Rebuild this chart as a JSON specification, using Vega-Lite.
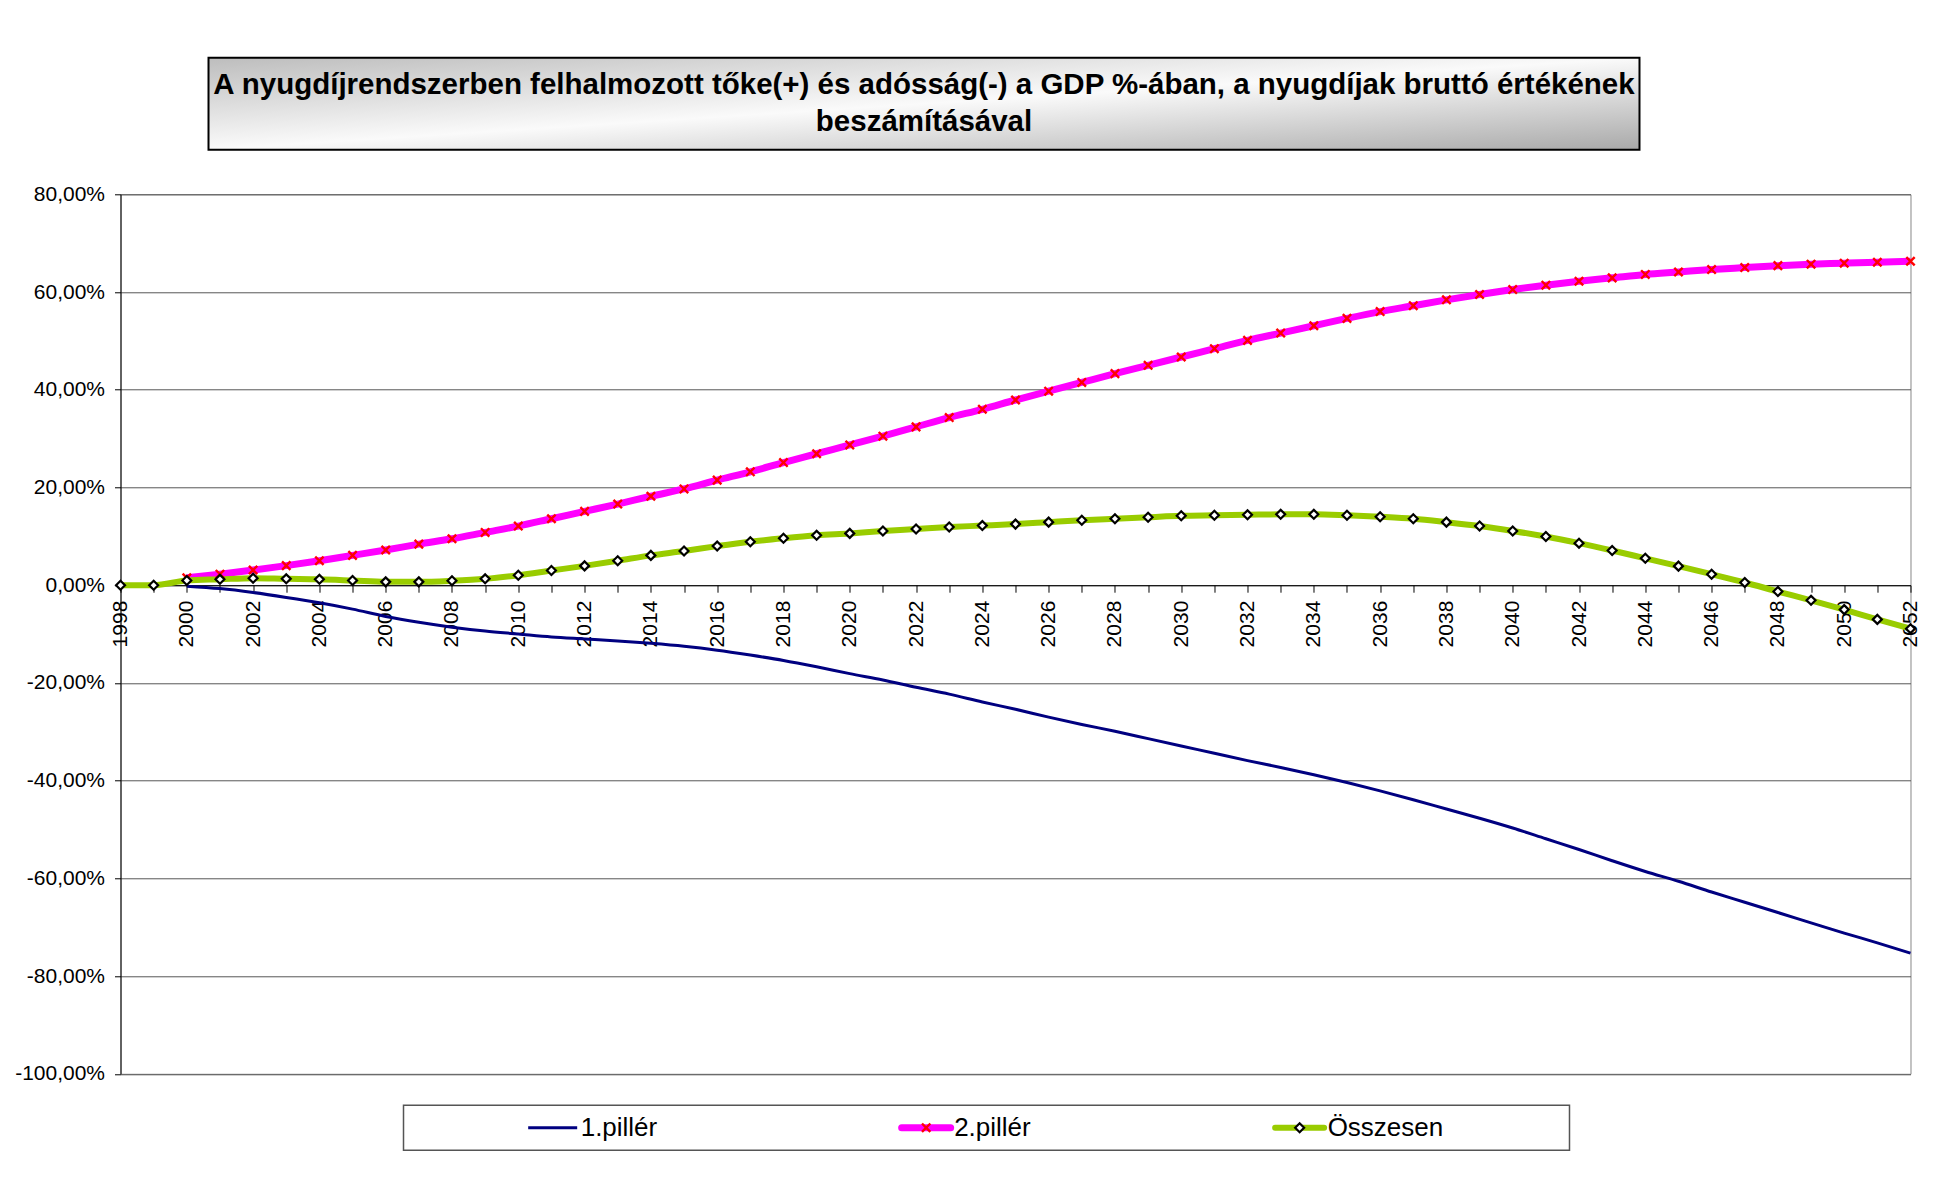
{
  "$schema": "https://vega.github.io/schema/vega-lite/v6.json",
  "padding": {"left": 13.5, "top": 56.7, "right": 5, "bottom": 5},
  "background": "white",
  "config": {
    "locale": {"number": {"decimal": ",", "thousands": " ", "grouping": [3], "currency": ["", " Ft"], "minus": "-"}},
    "view": {"stroke": null},
    "font": "Liberation Sans",
    "text": {"font": "Liberation Sans"},
    "axis": {"labelFont": "Liberation Sans", "labelColor": "#000000"}
  },
  "datasets": {
    "series": [
      {"year": 2000, "series": "1.pillér", "value": -0.002},
      {"year": 2001, "series": "1.pillér", "value": -0.007},
      {"year": 2002, "series": "1.pillér", "value": -0.015},
      {"year": 2003, "series": "1.pillér", "value": -0.025},
      {"year": 2004, "series": "1.pillér", "value": -0.036},
      {"year": 2005, "series": "1.pillér", "value": -0.049},
      {"year": 2006, "series": "1.pillér", "value": -0.064},
      {"year": 2007, "series": "1.pillér", "value": -0.076},
      {"year": 2008, "series": "1.pillér", "value": -0.086},
      {"year": 2009, "series": "1.pillér", "value": -0.094},
      {"year": 2010, "series": "1.pillér", "value": -0.100},
      {"year": 2011, "series": "1.pillér", "value": -0.106},
      {"year": 2012, "series": "1.pillér", "value": -0.110},
      {"year": 2013, "series": "1.pillér", "value": -0.114},
      {"year": 2014, "series": "1.pillér", "value": -0.119},
      {"year": 2015, "series": "1.pillér", "value": -0.125},
      {"year": 2016, "series": "1.pillér", "value": -0.133},
      {"year": 2017, "series": "1.pillér", "value": -0.143},
      {"year": 2018, "series": "1.pillér", "value": -0.154},
      {"year": 2019, "series": "1.pillér", "value": -0.167},
      {"year": 2020, "series": "1.pillér", "value": -0.181},
      {"year": 2021, "series": "1.pillér", "value": -0.194},
      {"year": 2022, "series": "1.pillér", "value": -0.209},
      {"year": 2023, "series": "1.pillér", "value": -0.223},
      {"year": 2024, "series": "1.pillér", "value": -0.239},
      {"year": 2025, "series": "1.pillér", "value": -0.254},
      {"year": 2026, "series": "1.pillér", "value": -0.270},
      {"year": 2027, "series": "1.pillér", "value": -0.285},
      {"year": 2028, "series": "1.pillér", "value": -0.299},
      {"year": 2029, "series": "1.pillér", "value": -0.314},
      {"year": 2030, "series": "1.pillér", "value": -0.329},
      {"year": 2031, "series": "1.pillér", "value": -0.344},
      {"year": 2032, "series": "1.pillér", "value": -0.359},
      {"year": 2033, "series": "1.pillér", "value": -0.373},
      {"year": 2034, "series": "1.pillér", "value": -0.388},
      {"year": 2035, "series": "1.pillér", "value": -0.404},
      {"year": 2036, "series": "1.pillér", "value": -0.421},
      {"year": 2037, "series": "1.pillér", "value": -0.439},
      {"year": 2038, "series": "1.pillér", "value": -0.458},
      {"year": 2039, "series": "1.pillér", "value": -0.477},
      {"year": 2040, "series": "1.pillér", "value": -0.497},
      {"year": 2041, "series": "1.pillér", "value": -0.519},
      {"year": 2042, "series": "1.pillér", "value": -0.541},
      {"year": 2043, "series": "1.pillér", "value": -0.564},
      {"year": 2044, "series": "1.pillér", "value": -0.586},
      {"year": 2045, "series": "1.pillér", "value": -0.606},
      {"year": 2046, "series": "1.pillér", "value": -0.628},
      {"year": 2047, "series": "1.pillér", "value": -0.649},
      {"year": 2048, "series": "1.pillér", "value": -0.670},
      {"year": 2049, "series": "1.pillér", "value": -0.691},
      {"year": 2050, "series": "1.pillér", "value": -0.712},
      {"year": 2051, "series": "1.pillér", "value": -0.732},
      {"year": 2052, "series": "1.pillér", "value": -0.753},
      {"year": 2000, "series": "2.pillér", "value": 0.015},
      {"year": 2001, "series": "2.pillér", "value": 0.0225},
      {"year": 2002, "series": "2.pillér", "value": 0.031},
      {"year": 2003, "series": "2.pillér", "value": 0.040},
      {"year": 2004, "series": "2.pillér", "value": 0.050},
      {"year": 2005, "series": "2.pillér", "value": 0.061},
      {"year": 2006, "series": "2.pillér", "value": 0.072},
      {"year": 2007, "series": "2.pillér", "value": 0.084},
      {"year": 2008, "series": "2.pillér", "value": 0.095},
      {"year": 2009, "series": "2.pillér", "value": 0.108},
      {"year": 2010, "series": "2.pillér", "value": 0.121},
      {"year": 2011, "series": "2.pillér", "value": 0.136},
      {"year": 2012, "series": "2.pillér", "value": 0.151},
      {"year": 2013, "series": "2.pillér", "value": 0.166},
      {"year": 2014, "series": "2.pillér", "value": 0.182},
      {"year": 2015, "series": "2.pillér", "value": 0.197},
      {"year": 2016, "series": "2.pillér", "value": 0.215},
      {"year": 2017, "series": "2.pillér", "value": 0.232},
      {"year": 2018, "series": "2.pillér", "value": 0.251},
      {"year": 2019, "series": "2.pillér", "value": 0.269},
      {"year": 2020, "series": "2.pillér", "value": 0.287},
      {"year": 2021, "series": "2.pillér", "value": 0.305},
      {"year": 2022, "series": "2.pillér", "value": 0.324},
      {"year": 2023, "series": "2.pillér", "value": 0.343},
      {"year": 2024, "series": "2.pillér", "value": 0.360},
      {"year": 2025, "series": "2.pillér", "value": 0.379},
      {"year": 2026, "series": "2.pillér", "value": 0.397},
      {"year": 2027, "series": "2.pillér", "value": 0.415},
      {"year": 2028, "series": "2.pillér", "value": 0.433},
      {"year": 2029, "series": "2.pillér", "value": 0.450},
      {"year": 2030, "series": "2.pillér", "value": 0.467},
      {"year": 2031, "series": "2.pillér", "value": 0.484},
      {"year": 2032, "series": "2.pillér", "value": 0.501},
      {"year": 2033, "series": "2.pillér", "value": 0.516},
      {"year": 2034, "series": "2.pillér", "value": 0.531},
      {"year": 2035, "series": "2.pillér", "value": 0.546},
      {"year": 2036, "series": "2.pillér", "value": 0.560},
      {"year": 2037, "series": "2.pillér", "value": 0.572},
      {"year": 2038, "series": "2.pillér", "value": 0.584},
      {"year": 2039, "series": "2.pillér", "value": 0.595},
      {"year": 2040, "series": "2.pillér", "value": 0.605},
      {"year": 2041, "series": "2.pillér", "value": 0.614},
      {"year": 2042, "series": "2.pillér", "value": 0.622},
      {"year": 2043, "series": "2.pillér", "value": 0.629},
      {"year": 2044, "series": "2.pillér", "value": 0.636},
      {"year": 2045, "series": "2.pillér", "value": 0.641},
      {"year": 2046, "series": "2.pillér", "value": 0.646},
      {"year": 2047, "series": "2.pillér", "value": 0.650},
      {"year": 2048, "series": "2.pillér", "value": 0.654},
      {"year": 2049, "series": "2.pillér", "value": 0.657},
      {"year": 2050, "series": "2.pillér", "value": 0.659},
      {"year": 2051, "series": "2.pillér", "value": 0.661},
      {"year": 2052, "series": "2.pillér", "value": 0.663},
      {"year": 1998, "series": "Összesen", "value": 0.0},
      {"year": 1999, "series": "Összesen", "value": 0.0},
      {"year": 2000, "series": "Összesen", "value": 0.0095},
      {"year": 2001, "series": "Összesen", "value": 0.012},
      {"year": 2002, "series": "Összesen", "value": 0.0143},
      {"year": 2003, "series": "Összesen", "value": 0.013},
      {"year": 2004, "series": "Összesen", "value": 0.012},
      {"year": 2005, "series": "Összesen", "value": 0.0095},
      {"year": 2006, "series": "Összesen", "value": 0.0068},
      {"year": 2007, "series": "Összesen", "value": 0.0068},
      {"year": 2008, "series": "Összesen", "value": 0.009},
      {"year": 2009, "series": "Összesen", "value": 0.013},
      {"year": 2010, "series": "Összesen", "value": 0.0204},
      {"year": 2011, "series": "Összesen", "value": 0.030},
      {"year": 2012, "series": "Összesen", "value": 0.0395},
      {"year": 2013, "series": "Összesen", "value": 0.050},
      {"year": 2014, "series": "Összesen", "value": 0.061},
      {"year": 2015, "series": "Összesen", "value": 0.070},
      {"year": 2016, "series": "Összesen", "value": 0.080},
      {"year": 2017, "series": "Összesen", "value": 0.089},
      {"year": 2018, "series": "Összesen", "value": 0.096},
      {"year": 2019, "series": "Összesen", "value": 0.102},
      {"year": 2020, "series": "Összesen", "value": 0.106},
      {"year": 2021, "series": "Összesen", "value": 0.111},
      {"year": 2022, "series": "Összesen", "value": 0.115},
      {"year": 2023, "series": "Összesen", "value": 0.119},
      {"year": 2024, "series": "Összesen", "value": 0.122},
      {"year": 2025, "series": "Összesen", "value": 0.125},
      {"year": 2026, "series": "Összesen", "value": 0.129},
      {"year": 2027, "series": "Összesen", "value": 0.133},
      {"year": 2028, "series": "Összesen", "value": 0.136},
      {"year": 2029, "series": "Összesen", "value": 0.139},
      {"year": 2030, "series": "Összesen", "value": 0.142},
      {"year": 2031, "series": "Összesen", "value": 0.143},
      {"year": 2032, "series": "Összesen", "value": 0.144},
      {"year": 2033, "series": "Összesen", "value": 0.145},
      {"year": 2034, "series": "Összesen", "value": 0.145},
      {"year": 2035, "series": "Összesen", "value": 0.143},
      {"year": 2036, "series": "Összesen", "value": 0.140},
      {"year": 2037, "series": "Összesen", "value": 0.136},
      {"year": 2038, "series": "Összesen", "value": 0.129},
      {"year": 2039, "series": "Összesen", "value": 0.121},
      {"year": 2040, "series": "Összesen", "value": 0.111},
      {"year": 2041, "series": "Összesen", "value": 0.0995},
      {"year": 2042, "series": "Összesen", "value": 0.086},
      {"year": 2043, "series": "Összesen", "value": 0.071},
      {"year": 2044, "series": "Összesen", "value": 0.055},
      {"year": 2045, "series": "Összesen", "value": 0.039},
      {"year": 2046, "series": "Összesen", "value": 0.0225},
      {"year": 2047, "series": "Összesen", "value": 0.0055},
      {"year": 2048, "series": "Összesen", "value": -0.013},
      {"year": 2049, "series": "Összesen", "value": -0.031},
      {"year": 2050, "series": "Összesen", "value": -0.050},
      {"year": 2051, "series": "Összesen", "value": -0.070},
      {"year": 2052, "series": "Összesen", "value": -0.089}
    ],
    "legend": [
      {"series": "1.pillér"},
      {"series": "2.pillér"},
      {"series": "Összesen"}
    ]
  },
  "spacing": 19.5,
  "vconcat": [
    {
      "spacing": 31.6,
      "vconcat": [
        {
          "spacing": 0,
          "hconcat": [
            {"width": 87, "height": 92, "data": {"values": []}, "mark": "point"},
            {
              "width": 1431,
              "height": 92,
              "view": {
                "fill": {"gradient": "linear", "x1": 0, "y1": 0, "x2": 1, "y2": 1,
                  "stops": [{"offset": 0, "color": "#bdbdbd"}, {"offset": 0.5, "color": "#fafafa"}, {"offset": 1, "color": "#a9a9a9"}]},
                "stroke": "#000000",
                "strokeWidth": 2
              },
              "data": {"values": [{}]},
              "mark": {
                "type": "text",
                "text": ["A nyugdíjrendszerben felhalmozott tőke(+) és adósság(-) a GDP %-ában, a nyugdíjak bruttó értékének", "beszámításával"],
                "fontSize": 29.5,
                "fontWeight": "bold",
                "lineHeight": 37,
                "align": "center",
                "baseline": "middle",
                "dy": -18.5,
                "color": "#000000"
              }
            }
          ]
        },
        {
          "width": 1790,
          "height": 879.5,
          "view": {"stroke": "#888888"},
          "data": {"name": "series"},
          "encoding": {
            "x": {
              "field": "year",
              "type": "quantitative",
              "scale": {"domain": [1998, 2052], "nice": false, "zero": false},
              "axis": {
                "values": [1998,1999,2000,2001,2002,2003,2004,2005,2006,2007,2008,2009,2010,2011,2012,2013,2014,2015,2016,2017,2018,2019,2020,2021,2022,2023,2024,2025,2026,2027,2028,2029,2030,2031,2032,2033,2034,2035,2036,2037,2038,2039,2040,2041,2042,2043,2044,2045,2046,2047,2048,2049,2050,2051,2052],
                "format": "d",
                "labelExpr": "datum.value % 2 === 0 ? datum.label : ''",
                "labelAngle": 270,
                "labelAlign": "right",
                "labelBaseline": "middle",
                "labelOverlap": false,
                "labelFlush": false,
                "labelBound": false,
                "offset": -488.6,
                "tickSize": 7,
                "labelPadding": 8,
                "grid": false,
                "title": null,
                "domainColor": "#000000",
                "tickColor": "#000000",
                "labelFontSize": 21,
                "labelColor": "#000000"
              }
            },
            "y": {
              "field": "value",
              "type": "quantitative",
              "scale": {"domain": [-1, 0.8], "nice": false, "zero": false},
              "axis": {
                "values": [-1, -0.8, -0.6, -0.4, -0.2, 0, 0.2, 0.4, 0.6, 0.8],
                "format": ".2%",
                "title": null,
                "grid": true,
                "gridColor": "#555555",
                "gridOpacity": 1,
                "domainColor": "#000000",
                "tickColor": "#000000",
                "tickSize": 6,
                "labelPadding": 10,
                "labelFontSize": 21,
                "labelColor": "#000000"
              }
            }
          },
          "layer": [
            {
              "transform": [{"filter": "datum.series === '1.pillér'"}],
              "mark": {"type": "line", "interpolate": "monotone", "color": "#000080", "strokeWidth": 3}
            },
            {
              "transform": [{"filter": "datum.series === '2.pillér'"}],
              "mark": {"type": "line", "interpolate": "monotone", "color": "#ff00ff", "strokeWidth": 7}
            },
            {
              "transform": [{"filter": "datum.series === 'Összesen'"}],
              "mark": {"type": "line", "interpolate": "monotone", "color": "#99cc00", "strokeWidth": 6}
            },
            {
              "transform": [{"filter": "datum.series === '2.pillér'"}],
              "mark": {"type": "point", "shape": "M-1,-1L1,1M-1,1L1,-1", "size": 70, "filled": false, "stroke": "#ff0000", "strokeWidth": 2.4, "opacity": 1}
            },
            {
              "transform": [{"filter": "datum.series === 'Összesen'"}],
              "mark": {"type": "point", "shape": "diamond", "size": 80, "filled": true, "fill": "#ffffff", "stroke": "#000000", "strokeWidth": 2.2, "opacity": 1}
            }
          ]
        }
      ]
    },
    {
      "spacing": 0,
      "hconcat": [
        {"width": 281.7, "height": 45, "data": {"values": []}, "mark": "point"},
        {
          "width": 1166,
          "height": 45,
          "view": {"stroke": "#555555", "strokeWidth": 1.5, "fill": "#ffffff"},
          "data": {"name": "legend"},
          "encoding": {
            "x": {
              "field": "series",
              "type": "nominal",
              "scale": {"type": "point", "domain": ["1.pillér", "2.pillér", "Összesen"], "padding": 0.561, "align": 0.356},
              "axis": null
            }
          },
          "layer": [
            {
              "transform": [{"filter": "datum.series === '1.pillér'"}],
              "mark": {"type": "point", "shape": "M-1,0L1,0", "size": 2401, "filled": false, "stroke": "#000080", "strokeWidth": 3, "opacity": 1}
            },
            {
              "transform": [{"filter": "datum.series === '2.pillér'"}],
              "mark": {"type": "point", "shape": "M-1,0L1,0", "size": 2401, "filled": false, "stroke": "#ff00ff", "strokeWidth": 7, "strokeCap": "round", "opacity": 1}
            },
            {
              "transform": [{"filter": "datum.series === 'Összesen'"}],
              "mark": {"type": "point", "shape": "M-1,0L1,0", "size": 2401, "filled": false, "stroke": "#99cc00", "strokeWidth": 6, "strokeCap": "round", "opacity": 1}
            },
            {
              "transform": [{"filter": "datum.series === '2.pillér'"}],
              "mark": {"type": "point", "shape": "M-1,-1L1,1M-1,1L1,-1", "size": 70, "filled": false, "stroke": "#ff0000", "strokeWidth": 2.4, "opacity": 1}
            },
            {
              "transform": [{"filter": "datum.series === 'Összesen'"}],
              "mark": {"type": "point", "shape": "diamond", "size": 80, "filled": true, "fill": "#ffffff", "stroke": "#000000", "strokeWidth": 2.2, "opacity": 1}
            },
            {
              "mark": {"type": "text", "align": "left", "baseline": "middle", "dx": 28, "fontSize": 26, "color": "#000000"},
              "encoding": {"text": {"field": "series", "type": "nominal"}}
            }
          ]
        }
      ]
    }
  ]
}
